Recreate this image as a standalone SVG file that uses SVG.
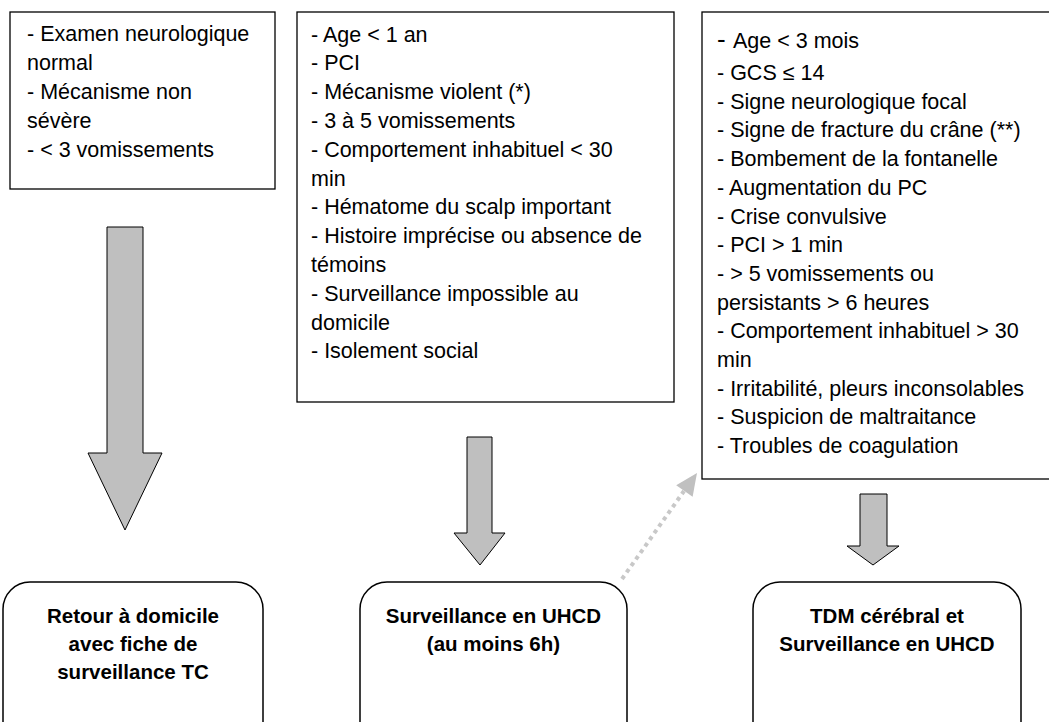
<svg xmlns="http://www.w3.org/2000/svg" width="1049" height="722" viewBox="0 0 1049 722">
<style>
.box{fill:#fff;stroke:#000;stroke-width:1.3}
.rbox{fill:#fff;stroke:#000;stroke-width:1.5}
.t{font-family:"Liberation Sans",Arial,sans-serif;font-size:21.5px;fill:#000}
.b{font-family:"Liberation Sans",Arial,sans-serif;font-size:20.5px;font-weight:bold;fill:#000;text-anchor:middle}
.arr{fill:#bfbfbf;stroke:#000;stroke-width:1;stroke-linejoin:miter}
.dot{fill:none;stroke:#c8c8c8;stroke-width:4;stroke-dasharray:4 4}
.head{fill:#c0c0c0;stroke:none}
</style>
<rect width="1049" height="722" fill="#fff"/>

<g id="criteria-low">
<rect class="box" x="10" y="12" width="265" height="177"/>
<text class="t" x="27" y="41">- Examen neurologique</text>
<text class="t" x="27" y="70">normal</text>
<text class="t" x="27" y="99">- Mécanisme non</text>
<text class="t" x="27" y="128">sévère</text>
<text class="t" x="27" y="157">- &lt; 3 vomissements</text>
</g>

<g id="criteria-mid">
<rect class="box" x="297" y="12" width="377" height="390"/>
<text class="t" x="311" y="41.5">- Age &lt; 1 an</text>
<text class="t" x="311" y="70.3">- PCI</text>
<text class="t" x="311" y="99.1">- Mécanisme violent (*)</text>
<text class="t" x="311" y="127.9">- 3 à 5 vomissements</text>
<text class="t" x="311" y="156.7">- Comportement inhabituel &lt; 30</text>
<text class="t" x="311" y="185.5">min</text>
<text class="t" x="311" y="214.3">- Hématome du scalp important</text>
<text class="t" x="311" y="243.1">- Histoire imprécise ou absence de</text>
<text class="t" x="311" y="271.9">témoins</text>
<text class="t" x="311" y="300.7">- Surveillance impossible au</text>
<text class="t" x="311" y="329.5">domicile</text>
<text class="t" x="311" y="358.3">- Isolement social</text>
</g>

<g id="criteria-high">
<rect class="box" x="702" y="12" width="360" height="467"/>
<text class="t" x="717" y="48"><tspan font-size="26">-</tspan><tspan x="733">Age &lt; 3 mois</tspan></text>
<text class="t" x="717" y="80">- GCS ≤ 14</text>
<text class="t" x="717" y="108.7">- Signe neurologique focal</text>
<text class="t" x="717" y="137.4">- Signe de fracture du crâne (**)</text>
<text class="t" x="717" y="166.1">- Bombement de la fontanelle</text>
<text class="t" x="717" y="194.8">- Augmentation du PC</text>
<text class="t" x="717" y="223.5">- Crise convulsive</text>
<text class="t" x="717" y="252.2">- PCI &gt; 1 min</text>
<text class="t" x="717" y="280.9">- &gt; 5 vomissements ou</text>
<text class="t" x="717" y="309.6">persistants &gt; 6 heures</text>
<text class="t" x="717" y="338.3">- Comportement inhabituel &gt; 30</text>
<text class="t" x="717" y="367">min</text>
<text class="t" x="717" y="395.7">- Irritabilité, pleurs inconsolables</text>
<text class="t" x="717" y="424.4">- Suspicion de maltraitance</text>
<text class="t" x="717" y="453.1">- Troubles de coagulation</text>
</g>

<g id="outcome-home">
<rect class="rbox" x="3" y="582" width="260" height="170" rx="27" ry="27"/>
<text class="b" x="133" y="623">Retour à domicile</text>
<text class="b" x="133" y="651">avec fiche de</text>
<text class="b" x="133" y="679">surveillance TC</text>
</g>

<g id="outcome-uhcd">
<rect class="rbox" x="360" y="582" width="267" height="170" rx="27" ry="27"/>
<text class="b" x="493.5" y="623">Surveillance en UHCD</text>
<text class="b" x="493.5" y="651">(au moins 6h)</text>
</g>

<g id="outcome-tdm">
<rect class="rbox" x="753" y="582" width="268" height="170" rx="27" ry="27"/>
<text class="b" x="887" y="623">TDM cérébral et</text>
<text class="b" x="887" y="651">Surveillance en UHCD</text>
</g>

<g id="connectors">
<path class="arr" d="M107,227 L143,227 L143,453 L162,453 L125,530 L88,453 L107,453 Z"/>
<path class="arr" d="M467,437 L492,437 L492,533 L505,533 L480,565 L454,533 L467,533 Z"/>
<path class="arr" d="M860,494 L887,494 L887,546 L899,546 L873,565 L847,546 L860,546 Z"/>
<path class="dot" d="M622,579 L684,491"/>
<polygon class="head" points="697,473 692.6,496.7 676.2,485.3"/>
</g>
</svg>
